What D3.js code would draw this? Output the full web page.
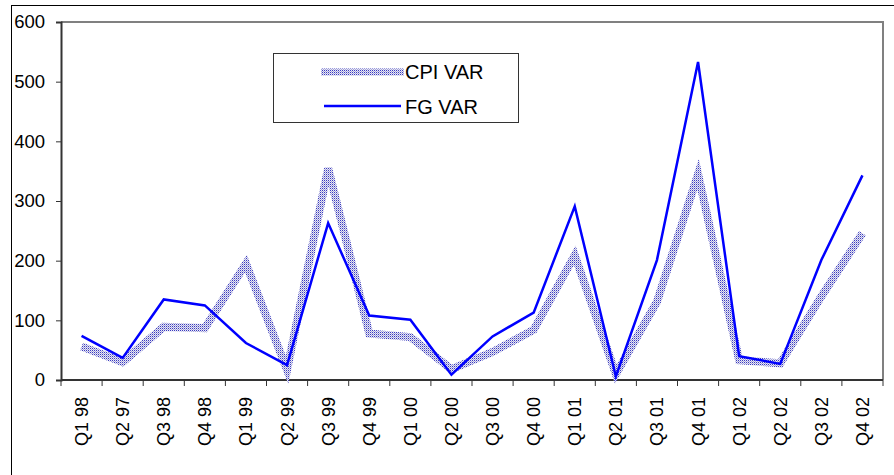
<!DOCTYPE html>
<html>
<head>
<meta charset="utf-8">
<script src="https://cdn.jsdelivr.net/npm/d3@7"></script>
<style>
  body { margin: 0; background: #fff; }
  svg { display: block; font-family: "Liberation Sans", Arial, sans-serif; }
</style>
</head>
<body>
<div id="chart"></div>
<script>
const QUARTERS = ["Q1 98","Q2 97","Q3 98","Q4 98","Q1 99","Q2 99","Q3 99","Q4 99","Q1 00","Q2 00",
                  "Q3 00","Q4 00","Q1 01","Q2 01","Q3 01","Q4 01","Q1 02","Q2 02","Q3 02","Q4 02"];
const CPI_VAR = [56, 30, 89, 87, 195, 17, 355, 78, 72, 18, 47, 84, 209, 10, 131, 345, 33, 28, 140, 246];
const FG_VAR  = [74, 37, 135, 125, 62, 25, 263, 108, 101, 9, 73, 113, 291, 6, 201, 533, 40, 27, 201, 343];
const Y_TICKS = [0, 100, 200, 300, 400, 500, 600];

const W = 894, H = 475;
const plot = { left: 61, right: 883, top: 22, bottom: 380 };

const svg = d3.select("#chart").append("svg").attr("width", W).attr("height", H);

/* dotted texture used by the CPI line */
const pat = svg.append("defs").append("pattern")
  .attr("id", "dots").attr("width", 2).attr("height", 2).attr("patternUnits", "userSpaceOnUse");
pat.append("rect").attr("width", 2).attr("height", 2).attr("fill", "#e8e8f4");
pat.append("rect").attr("width", 1).attr("height", 1).attr("fill", "#3a3ac0");
pat.append("rect").attr("x", 1).attr("y", 1).attr("width", 1).attr("height", 1).attr("fill", "#a4a4da");

// outer frame
svg.append("rect").attr("x", 11.5).attr("y", 5.5).attr("width", 900).attr("height", 500)
  .attr("fill", "none").attr("stroke", "#000").attr("stroke-width", 1);

const x = d3.scaleBand().domain(QUARTERS).range([plot.left, plot.right]);
const y = d3.scaleLinear().domain([0, 600]).range([plot.bottom, plot.top]);
const cx = d => x(d) + x.bandwidth() / 2;

// plot frame (top + right in gray)
svg.append("path")
  .attr("d", `M${plot.left},${plot.top}H${plot.right}V${plot.bottom}`)
  .attr("fill", "none").attr("stroke", "#808080").attr("stroke-width", 2);

// y axis
const yAxis = svg.append("g").attr("transform", `translate(${plot.left},0)`)
  .call(d3.axisLeft(y).tickValues(Y_TICKS).tickSize(5).tickPadding(11).tickFormat(d3.format("d")));
yAxis.select(".domain").attr("stroke", "#333").attr("stroke-width", 2);
yAxis.selectAll(".tick line").attr("stroke", "#333");
yAxis.selectAll("text").style("font-size", "18.5px").attr("fill", "#000")
  .style("font-family", "'Liberation Sans', Arial, sans-serif");

// x axis with boundary ticks
const xg = svg.append("g");
xg.append("line").attr("x1", plot.left).attr("x2", plot.right)
  .attr("y1", plot.bottom).attr("y2", plot.bottom)
  .attr("stroke", "#333").attr("stroke-width", 2);
const bounds = QUARTERS.map(q => x(q)).concat([plot.right]);
xg.selectAll("line.tk").data(bounds).enter().append("line").attr("class", "tk")
  .attr("x1", d => d).attr("x2", d => d).attr("y1", plot.bottom).attr("y2", plot.bottom + 6)
  .attr("stroke", "#333").attr("stroke-width", 1);
xg.selectAll("text").data(QUARTERS).enter().append("text")
  .attr("transform", d => `translate(${cx(d) + 6.5},397) rotate(-90)`)
  .attr("text-anchor", "end")
  .style("font-size", "18px").attr("fill", "#000")
  .text(d => d);

const line = d3.line().x(d => cx(d[0])).y(d => y(d[1]));

svg.append("path").datum(QUARTERS.map((q, i) => [q, CPI_VAR[i]]))
  .attr("d", line).attr("fill", "none")
  .attr("stroke", "url(#dots)").attr("stroke-width", 8).attr("stroke-linejoin", "miter");

svg.append("path").datum(QUARTERS.map((q, i) => [q, FG_VAR[i]]))
  .attr("d", line).attr("fill", "none")
  .attr("stroke", "#0000ff").attr("stroke-width", 2.5).attr("stroke-linejoin", "miter");

/* Legend */
const lg = svg.append("g");
lg.append("rect").attr("x", 273.5).attr("y", 53.5).attr("width", 245).attr("height", 69)
  .attr("fill", "#fff").attr("stroke", "#333").attr("stroke-width", 1);
lg.append("line").attr("x1", 321).attr("x2", 404).attr("y1", 72).attr("y2", 72)
  .attr("stroke", "url(#dots)").attr("stroke-width", 7);
lg.append("line").attr("x1", 324).attr("x2", 401).attr("y1", 106).attr("y2", 106)
  .attr("stroke", "#0000ff").attr("stroke-width", 2.5);
lg.append("text").attr("x", 405).attr("y", 79).style("font-size", "20px").text("CPI VAR");
lg.append("text").attr("x", 405).attr("y", 114).style("font-size", "20px").text("FG VAR");
</script>
</body>
</html>
